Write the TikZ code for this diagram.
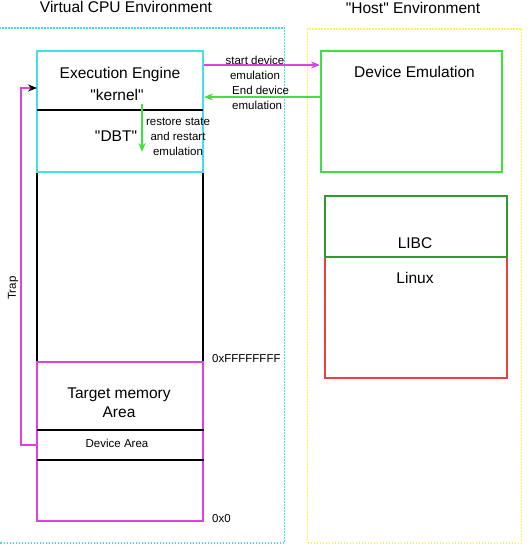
\documentclass[tikz,border=0pt]{standalone}
\usepackage{fontspec}
\setmainfont{Liberation Sans}
\usetikzlibrary{arrows.meta,calc}
\definecolor{vcyan}{HTML}{40E0E8}
\definecolor{vyellow}{HTML}{F8F850}
\definecolor{vmagenta}{HTML}{E040E0}
\definecolor{vgreen}{HTML}{40E040}
\definecolor{vdkgreen}{HTML}{309A30}
\definecolor{vred}{HTML}{E84040}
\tikzset{
  box/.style={draw, line width=2pt, inner sep=0pt},
  env/.style={draw, line width=1.6pt, dash pattern=on 1.6pt off 1.4pt, inner sep=0pt},
  big/.style={font=\fontsize{15.5}{18}\selectfont, inner sep=0pt, anchor=base},
  small/.style={font=\fontsize{11.5}{15}\selectfont, inner sep=0pt, align=center},
  link/.style={line width=2pt, -{Stealth[length=9pt,width=7pt]}},
}
\begin{document}
\begin{tikzpicture}[x=1pt, y=-1pt]
    \useasboundingbox (0,0) rectangle (528,545);
    \begin{scope}
    \clip (0,0) rectangle (528,545);
    \node [env, draw=vcyan, minimum width=290pt, minimum height=515pt] (cpu) at (139.5,285.5) {};
    \end{scope}
    \node [env, draw=vyellow, minimum width=214pt, minimum height=514pt] (host) at (414.5,286) {};
    \node [big] (t1) at (126,12.5) {Virtual CPU Environment};
    \node [big] (t2) at (413,14) {\textquotedbl Host\textquotedbl\ Environment};
    \node [box, minimum width=166pt, minimum height=190pt] (mem) at (120,267) {};
    \node [box, draw=vmagenta, minimum width=166pt, minimum height=159pt] (target) at (120,441.5) {};
    \coordinate (d1) at (37,430);
    \coordinate (d2) at (37,460);
    \draw [line width=1.6pt] (d1) -- (d1 -| target.east);
    \draw [line width=1.6pt] (d2) -- (d2 -| target.east);
    \node [box, draw=vcyan, minimum width=166pt, minimum height=121pt] (engine) at (120,111.5) {};
    \draw [line width=1.6pt] ($(engine.north west)+(1,60)$) -- ($(engine.north east)+(-1,60)$);
    \node [big] (ee) at (120,79) {Execution Engine};
    \node [big] (kn) at (117,101) {\textquotedbl kernel\textquotedbl};
    \node [big] (dbt) at (116,142) {\textquotedbl DBT\textquotedbl};
    \node [small] (rs) at (178,137) {restore state\\and restart\\emulation};
    \node [big] (tm) at (119,398) {Target memory};
    \node [big] (ar) at (119,417) {Area};
    \node [small, anchor=base] (da) at (117,447) {Device Area};
    \node [small, anchor=base west] (hi) at (212,362) {0xFFFFFFFF};
    \node [small, anchor=base west] (lo) at (212,522) {0x0};
    \node [box, draw=vgreen, minimum width=181pt, minimum height=121pt] (emu) at (411.5,111.5) {};
    \node [big] (de) at (414.5,78) {Device Emulation};
    \node [box, draw=vred, minimum width=182pt, minimum height=121pt] (linux) at (416,317.5) {};
    \node [box, draw=vdkgreen, minimum width=182pt, minimum height=61pt] (libc) at (416,226.5) {};
    \node [big] (lc) at (415,248) {LIBC};
    \node [big] (lx) at (415,283) {Linux};
    \coordinate (r1) at (142,104);
    \coordinate (r2) at (142,152);
    \coordinate (trapin) at (37,88);
    \draw [link, vmagenta] ($(engine.north east)+(0,15)$) -- ($(emu.north west)+(0,15)$);
    \node [small] (sd) at (255,68) {start device\\emulation};
    \draw [link, vgreen] ($(emu.north west)+(0,47)$) -- ($(engine.north east)+(0,47)$);
    \node [small, align=left, anchor=north west] (ed) at (232,86) {End device\\emulation};
    \draw [link, vgreen] (r1) -- (r2);
    \draw [vmagenta, line width=2pt, -{Stealth[length=9pt,width=7pt,black]}] (d1 |- 0,445) -- ++(-16,0) |- (trapin);
    \node [small, rotate=90] (tr) at (13,288) {Trap};
\end{tikzpicture}
\end{document}
